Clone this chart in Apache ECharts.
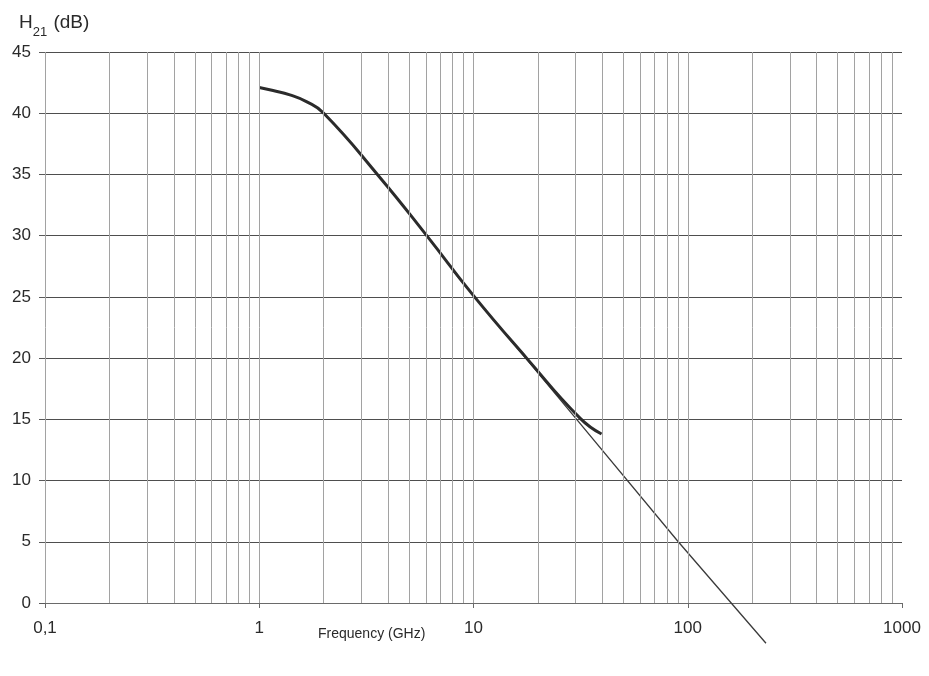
<!DOCTYPE html>
<html>
<head>
<meta charset="utf-8">
<script src="https://cdn.jsdelivr.net/npm/echarts@6/dist/echarts.min.js"></script>
<style>
  html, body { margin: 0; padding: 0; background: #ffffff; }
  #chart { width: 929px; height: 676px; }
</style>
</head>
<body>
<div id="chart"></div>
<script>
// Measured current gain |H21| versus frequency (GHz, dB)
const measuredFreq = [1.0, 1.16, 1.39, 1.66, 2.0, 3.6, 6.05, 10, 17.7, 31.4, 39.6];
const measuredGain = [42.1, 41.85, 41.5, 40.95, 40.0, 34.9, 30.0, 25.1, 20.0, 15.1, 13.8];

// -20 dB/decade extrapolation line
const slopeFreq = [8, 30.3, 90.3, 231.8];
const slopeGain = [27.15, 15.0, 5.0, -3.29];

// Decade tick labels and the log grid lines inside each decade
const xTicks = [0.1, 1, 10, 100, 1000];
const gridFreqs = [
  0.1, 0.2, 0.3, 0.4, 0.5, 0.6, 0.7, 0.8, 0.9,
  1, 2, 3, 4, 5, 6, 7, 8, 9,
  10, 20, 30, 40, 50, 60, 70, 80, 90,
  100, 200, 300, 400, 500, 600, 700, 800, 900
];

const FONT = '"Liberation Sans", Arial, sans-serif';
const toPairs = (xs, ys) => xs.map((x, i) => [x, ys[i]]);

const chart = echarts.init(document.getElementById('chart'), null, { renderer: 'canvas' });

chart.setOption({
  backgroundColor: '#ffffff',
  animation: false,
  grid: { left: 45, right: 27, top: 52, bottom: 73, containLabel: false },
  title: {
    left: 14, top: 5,
    text: '{h|H}{s|21}{h| (dB)}',
    textStyle: {
      fontWeight: 'normal',
      rich: {
        h: { fontFamily: FONT, fontSize: 19, fontWeight: 'normal', color: '#2a2a2a', lineHeight: 26 },
        s: { fontFamily: FONT, fontSize: 13, fontWeight: 'normal', color: '#2a2a2a', lineHeight: 26, verticalAlign: 'bottom', padding: [0, 1, -3, 0] }
      }
    }
  },
  graphic: [{
    type: 'text',
    left: 318, top: 627,
    style: { text: 'Frequency (GHz)', font: '14px ' + FONT, fill: '#2a2a2a' }
  }],
  xAxis: {
    type: 'log',
    logBase: 10,
    min: xTicks[0],
    max: xTicks[xTicks.length - 1],
    axisLine: { show: true, lineStyle: { color: '#6a6a6a', width: 1 } },
    axisTick: { show: true, length: 5, lineStyle: { color: '#6a6a6a' } },
    axisLabel: {
      margin: 17,
      fontFamily: FONT, fontSize: 17, color: '#2a2a2a',
      formatter: v => String(v).replace('.', ',')
    },
    splitLine: { show: false },
    minorTick: { show: false }
  },
  yAxis: {
    type: 'value',
    min: 0, max: 45, interval: 5,
    axisLine: { show: false },
    axisTick: { show: true, length: 6, lineStyle: { color: '#5a5a5a' } },
    axisLabel: { margin: 14, fontFamily: FONT, fontSize: 17, color: '#2a2a2a' },
    splitLine: { show: true, lineStyle: { color: '#4e4e4e', width: 1 } }
  },
  series: [
    {
      name: 'grid',
      type: 'line',
      data: [],
      silent: true,
      z: 1,
      markLine: {
        silent: true,
        symbol: ['none', 'none'],
        label: { show: false },
        lineStyle: { color: '#a2a2a2', width: 1, type: 'solid' },
        data: gridFreqs.map(f => ({ xAxis: f }))
      }
    },
    {
      name: 'slope',
      type: 'line',
      data: toPairs(slopeFreq, slopeGain),
      showSymbol: false,
      clip: false,
      z: 3,
      lineStyle: { color: '#3a3a3a', width: 1.3 }
    },
    {
      name: 'H21',
      type: 'line',
      data: toPairs(measuredFreq, measuredGain),
      smooth: 0.5,
      showSymbol: false,
      z: 4,
      lineStyle: { color: '#2b2b2b', width: 3 }
    }
  ]
});
</script>
</body>
</html>
